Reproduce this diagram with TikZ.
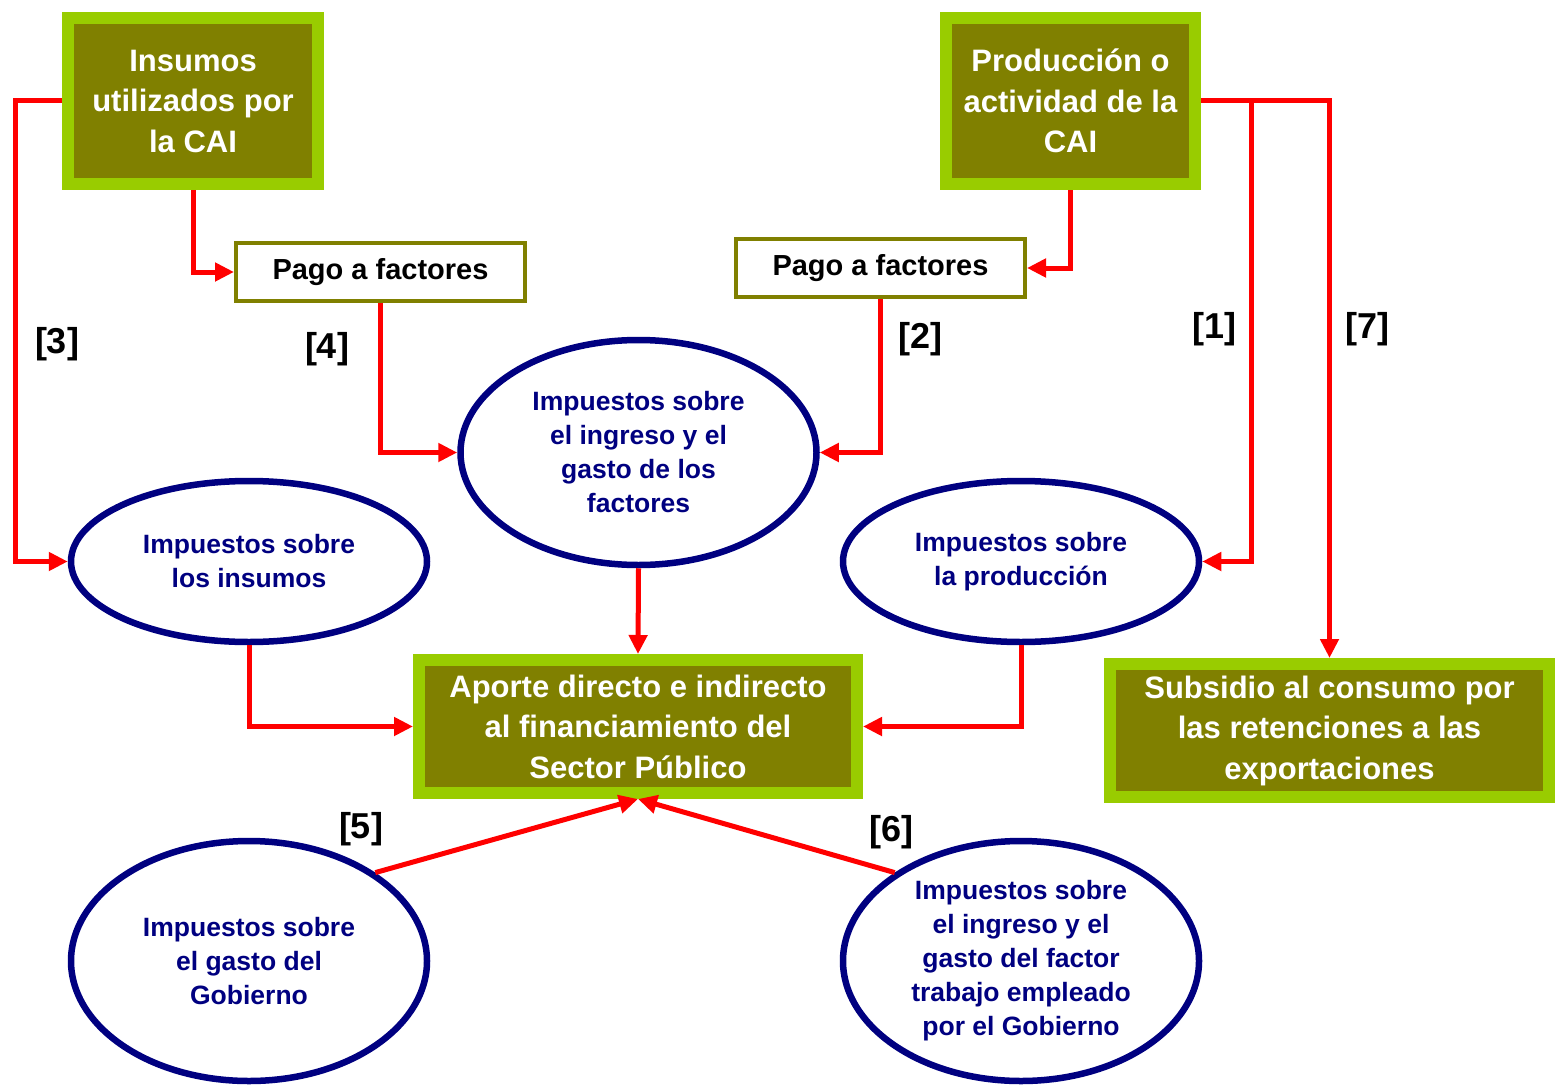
\documentclass[tikz,border=0pt]{standalone}
\usepackage{fontspec}
\setmainfont{Liberation Sans}
\usepackage{tikz}
\usetikzlibrary{shapes.geometric,arrows.meta,calc}

\definecolor{limegreen}{HTML}{99CC00}
\definecolor{oliva}{HTML}{808000}
\definecolor{navyblue}{HTML}{000080}

\begin{document}
\begin{tikzpicture}[x=1pt,y=-1pt,
        block/.style={draw=limegreen,line width=12pt,fill=oliva,text=white,align=center,
        inner sep=0pt,font=\fontsize{31}{40.5}\selectfont\bfseries},
        pago/.style={draw=oliva,line width=4pt,fill=white,align=center,inner sep=0pt,
        minimum width=289pt,minimum height=58pt,font=\fontsize{29}{34}\selectfont\bfseries},
        tax/.style={ellipse,draw=navyblue,line width=6.5pt,text=navyblue,align=center,inner sep=0pt,
        minimum width=356pt,font=\fontsize{26.5}{34}\selectfont\bfseries},
        flow/.style={draw=red,line width=5pt,-{Triangle[length=19pt,width=18pt]}},
        num/.style={font=\fontsize{36}{36}\selectfont\bfseries}]

        \useasboundingbox (0,0) rectangle (1562,1089);

        % Top boxes
        \node[block,minimum width=250pt,minimum height=166pt] (ins) at (193,101) {Insumos\\utilizados por\\la CAI};
        \node[block,minimum width=249pt,minimum height=166pt] (prod) at (1070.5,101) {Producción o\\actividad de la\\CAI};
        \node[pago] (pl) at (380.5,272) {Pago a factores};
        \node[pago] (pr) at (880.5,268) {Pago a factores};

        % Taxes
        \node[tax,minimum height=225pt] (efact) at (638.5,452.5) {Impuestos sobre\\el ingreso y el\\gasto de los\\factores};
        \node[tax,minimum height=161pt] (eins) at (249,561.5) {Impuestos sobre\\los insumos};
        \node[tax,minimum height=161pt] (eprod) at (1021,561.5) {Impuestos sobre\\la producción};
        \node[tax,minimum height=240pt] (egob) at (249,961) {Impuestos sobre\\el gasto del\\Gobierno};
        \node[tax,minimum height=240pt] (etrab) at (1021,961) {Impuestos sobre\\el ingreso y el\\gasto del factor\\trabajo empleado\\por el Gobierno};

        % Bottom boxes
        \node[block,minimum width=438pt,minimum height=133pt] (ap) at (638,726.5) {Aporte directo e indirecto\\al financiamiento del\\Sector Público};
        \node[block,minimum width=439pt,minimum height=133pt] (sub) at (1329.5,730.5) {Subsidio al consumo por\\las retenciones a las\\exportaciones};

        % Flows
        \draw[flow] (ins.south) |- (pl.west);
        \draw[flow] (ins.west) -- ++(-47,0) |- (eins.west);
        \draw[flow] (pl.south) |- (efact.west);
        \draw[flow] (prod.south) |- (pr.east);
        \draw[flow] (pr.south) |- (efact.east);
        \draw[flow] (prod.east) -- ++(50,0) coordinate (split) |- (eprod.east);
        \draw[flow] (split) -| (sub.north);
        \draw[flow] (efact.south) -- (ap.north);
        \draw[flow] (eins.south) |- (ap.west);
        \draw[flow] (eprod.south) |- (ap.east);
        \draw[flow] (egob.35) -- (ap.south);
        \draw[flow] (etrab.145) -- (ap.south);

        % Labels
        \node[num] (n1) at (1214,329) {[1]};
        \node[num] (n2) at (920,339) {[2]};
        \node[num] (n3) at (57,344) {[3]};
        \node[num] (n4) at (327,349) {[4]};
        \node[num] (n5) at (361,829) {[5]};
        \node[num] (n6) at (891,832) {[6]};
        \node[num] (n7) at (1367,329) {[7]};

\end{tikzpicture}
\end{document}
